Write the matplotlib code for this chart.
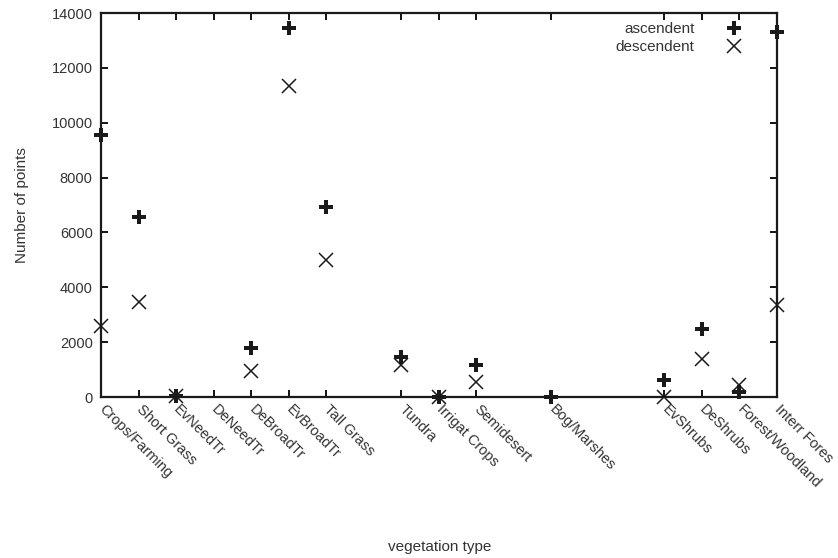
import numpy as np
import matplotlib
matplotlib.use("Agg")
import matplotlib.pyplot as plt

# category positions and names
positions = [1, 2, 3, 4, 5, 6, 7, 9, 10, 11, 13, 16, 17, 18, 19]
labels = ["Crops/Farming", "Short Grass", "EvNeedTr", "DeNeedTr", "DeBroadTr",
          "EvBroadTr", "Tall Grass", "Tundra", "Irrigat Crops", "Semidesert",
          "Bog/Marshes", "EvShrubs", "DeShrubs", "Forest/Woodland", "Interr Fores"]

# number of points per vegetation type
ascendent = [9550, 6550, 30, np.nan, 1800, 13440, 6940, 1470, 0, 1180,
             0, 620, 2480, 180, 13320]
descendent = [2580, 3450, 30, np.nan, 950, 11330, 5000, 1170, 0, 560,
              np.nan, 0, 1390, 440, 3350]

plt.rcParams["font.family"] = ["Liberation Sans", "DejaVu Sans"]
plt.rcParams["font.size"] = 10.5

fig = plt.figure(figsize=(8.38, 5.58), dpi=100)
ax = fig.add_axes([0.1205, 0.2885, 0.8064, 0.6882])

ax.plot(positions, ascendent, linestyle="none", marker="P", markersize=10,
        color="#1a1a1a", markeredgewidth=0, clip_on=False, label="ascendent")
ax.plot(positions, descendent, linestyle="none", marker="x", markersize=10.5,
        color="#1a1a1a", markeredgewidth=1.1, clip_on=False, label="descendent")

ax.set_xlim(1, 19)
ax.set_ylim(0, 14000)
ax.set_xticks(positions)
ax.set_xticklabels(labels, rotation=-45, ha="left", va="center",
                   rotation_mode="anchor", color="#333333")
ax.set_yticks(range(0, 14001, 2000))
ax.tick_params(direction="in", length=5, width=1.3, top=True, right=True,
               labelcolor="#333333", pad=6)
ax.tick_params(axis="x", pad=7)
for s in ax.spines.values():
    s.set_linewidth(1.6)
    s.set_color("#1a1a1a")

ax.set_ylabel("Number of points", color="#333333", labelpad=16, fontsize=11)
fig.text(0.525, 0.008, "vegetation type", ha="center", va="bottom",
         color="#333333", fontsize=11)

ax.legend(loc="upper right", frameon=False, markerfirst=False,
          bbox_to_anchor=(0.98, 1.012), handletextpad=1.6, labelspacing=0.25,
          labelcolor="#333333", fontsize=11)

fig.savefig("out.png", dpi=100)
